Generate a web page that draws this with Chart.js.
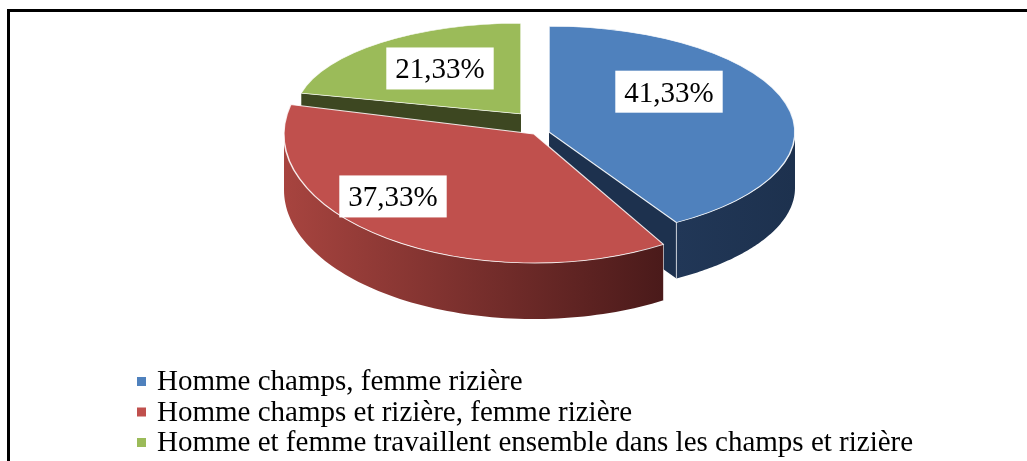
<!DOCTYPE html>
<html>
<head>
<meta charset="utf-8">
<script src="https://cdn.jsdelivr.net/npm/chart.js@4.4.0/dist/chart.umd.min.js"></script>
<style>
  html, body { margin: 0; padding: 0; background: #fff; }
  #wrap { width: 1027px; height: 461px; }
</style>
</head>
<body>
<div id="wrap"><canvas id="pie" width="1027" height="461"></canvas></div>
<script>
// data
const categories = [
  'Homme champs, femme rizière',
  'Homme champs et rizière, femme rizière',
  'Homme et femme travaillent ensemble dans les champs et rizière'
];
const shares = [41.33, 37.33, 21.33];
const shareLabels = ['41,33%', '37,33%', '21,33%'];

// look
const topColors = ['#4f81bd', '#c0504d', '#9bbb59'];
const wallLight = ['#213757', '#a7443f', '#435026'];
const wallDark = ['#1d314e', '#4a1a1a', '#3d4721'];
// per slice: shift (fraction of rx, ry) and scale, to fake explosion + perspective
const slicePlace = [[0.06, -0.0156, 0.984, 0.82], [0, 0, 1, 1], [-0.052, -0.156, 0.904, 0.703]];
const labelSpots = [[0.54, -0.328], [-0.564, 0.484], [-0.376, -0.508]];

const PIE = { cx: 534, cy: 134, rx: 250, ry: 129, depth: 56 };
const FONT = '"Liberation Serif", "Times New Roman", serif';

function sliceGeom(i) {
  const [sx, sy, kx, ky] = slicePlace[i];
  return { cx: PIE.cx + sx * PIE.rx, cy: PIE.cy + sy * PIE.ry, rx: PIE.rx * kx, ry: PIE.ry * ky };
}

function rim(i, a) {
  const g = sliceGeom(i);
  return [g.cx + g.rx * Math.cos(a), g.cy + g.ry * Math.sin(a)];
}

// parts of [a0, a1] that lie on the front half (0..PI, mod 2PI)
function frontRanges(a0, a1) {
  const out = [];
  for (const k of [-1, 0, 1]) {
    const lo = Math.max(a0, k * 2 * Math.PI);
    const hi = Math.min(a1, k * 2 * Math.PI + Math.PI);
    if (hi > lo) out.push([lo, hi]);
  }
  return out;
}

function radialFace(ctx, i, a) {
  const g = sliceGeom(i);
  const [px, py] = rim(i, a);
  const d = PIE.depth;
  ctx.beginPath();
  ctx.moveTo(g.cx, g.cy);
  ctx.lineTo(px, py);
  ctx.lineTo(px, py + d);
  ctx.lineTo(g.cx, g.cy + d);
  ctx.closePath();
  ctx.fillStyle = wallDark[i];
  ctx.fill();
  ctx.strokeStyle = 'rgba(255,255,255,0.6)';
  ctx.lineWidth = 1;
  ctx.beginPath();
  ctx.moveTo(px, py);
  ctx.lineTo(px, py + d);
  ctx.stroke();
}

function wall(ctx, arc, i) {
  const d = PIE.depth;
  frontRanges(arc.startAngle, arc.endAngle).forEach(([lo, hi]) => {
    const steps = 80;
    const top = [];
    for (let k = 0; k <= steps; k++) top.push(rim(i, lo + (hi - lo) * k / steps));
    ctx.beginPath();
    top.forEach(([x, y], k) => k ? ctx.lineTo(x, y) : ctx.moveTo(x, y));
    for (let k = steps; k >= 0; k--) ctx.lineTo(top[k][0], top[k][1] + d);
    ctx.closePath();
    const xs = top.map(p => p[0]);
    const grad = ctx.createLinearGradient(Math.min(...xs), 0, Math.max(...xs), 0);
    grad.addColorStop(0, wallLight[i]);
    grad.addColorStop(1, wallDark[i]);
    ctx.fillStyle = grad;
    ctx.fill();

    ctx.strokeStyle = 'rgba(255,255,255,0.6)';
    ctx.lineWidth = 1;
    [[lo, arc.startAngle, 0], [hi, arc.endAngle, steps]].forEach(([a, edge, k]) => {
      if (Math.abs(a - edge) < 1e-6) {
        ctx.beginPath();
        ctx.moveTo(top[k][0], top[k][1]);
        ctx.lineTo(top[k][0], top[k][1] + d);
        ctx.stroke();
      }
    });
  });
}

const pie3d = {
  id: 'pie3d',
  beforeDatasetsDraw(chart) {
    const ctx = chart.ctx;
    const arcs = chart.getDatasetMeta(0).data;

    // side faces that turn towards the viewer
    arcs.forEach((arc, i) => {
      if (Math.cos(arc.startAngle) < -1e-6) radialFace(ctx, i, arc.startAngle);
      if (Math.cos(arc.endAngle) > 1e-6) radialFace(ctx, i, arc.endAngle);
    });
    arcs.forEach((arc, i) => wall(ctx, arc, i));

    // top faces: the library's own arcs, squashed into ellipses
    arcs.forEach((arc, i) => {
      const g = sliceGeom(i);
      ctx.save();
      ctx.translate(g.cx, g.cy);
      ctx.scale(g.rx / arc.outerRadius, g.ry / arc.outerRadius);
      ctx.translate(-arc.x, -arc.y);
      arc.draw(ctx);
      ctx.restore();
    });
    return false;
  },
  afterDraw(chart) {
    const ctx = chart.ctx;
    ctx.save();

    // value labels in white boxes
    ctx.font = '29px ' + FONT;
    ctx.textAlign = 'center';
    ctx.textBaseline = 'alphabetic';
    shareLabels.forEach((txt, i) => {
      const x = PIE.cx + labelSpots[i][0] * PIE.rx;
      const y = PIE.cy + labelSpots[i][1] * PIE.ry;
      const w = ctx.measureText(txt).width + 18;
      const h = 42;
      ctx.fillStyle = '#fff';
      ctx.fillRect(x - w / 2, y - h / 2, w, h);
      ctx.fillStyle = '#000';
      ctx.fillText(txt, x, y + 10);
    });

    // legend
    ctx.textAlign = 'left';
    chart.data.labels.forEach((txt, i) => {
      const base = 390 + i * 30.5;
      ctx.fillStyle = topColors[i];
      ctx.fillRect(137, base - 13, 9, 9);
      ctx.fillStyle = '#000';
      ctx.fillText(txt, 157, base);
    });

    // frame
    ctx.fillStyle = '#000';
    ctx.fillRect(7, 9, chart.width, 3);
    ctx.fillRect(7, 9, 3, chart.height);
    ctx.restore();
  }
};

new Chart(document.getElementById('pie'), {
  type: 'pie',
  data: {
    labels: categories,
    datasets: [{
      data: shares,
      backgroundColor: topColors,
      borderColor: 'rgba(255,255,255,0.85)',
      borderWidth: 1.5
    }]
  },
  options: {
    responsive: false,
    animation: false,
    plugins: {
      legend: { display: false },
      tooltip: { enabled: false }
    }
  },
  plugins: [pie3d]
});
</script>
</body>
</html>
